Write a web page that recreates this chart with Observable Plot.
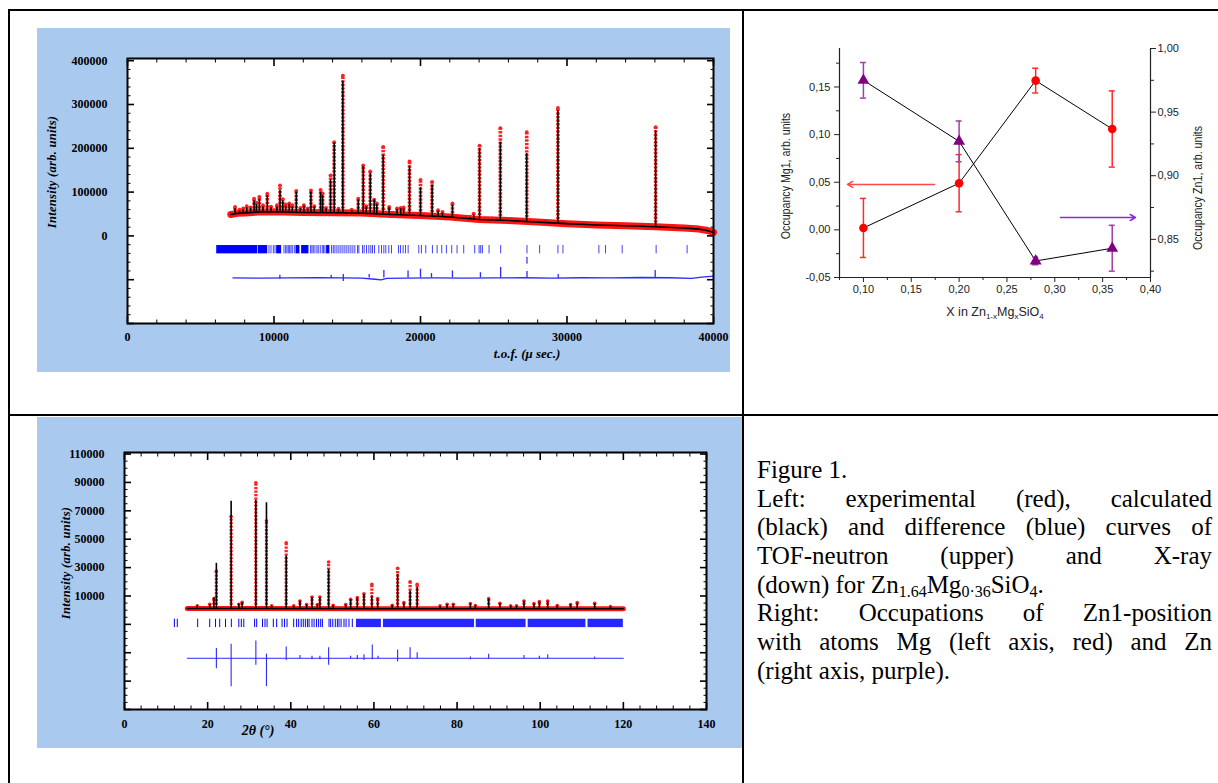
<!DOCTYPE html>
<html><head><meta charset="utf-8">
<script src="https://cdn.jsdelivr.net/npm/d3@7"></script>
<script src="https://cdn.jsdelivr.net/npm/@observablehq/plot@0.6"></script>
<style>
html,body{margin:0;padding:0;background:#fff;}
body{width:1218px;height:783px;overflow:hidden;position:relative;font-family:"Liberation Serif",serif;}
.ln{position:absolute;background:#000;}
.panel{position:absolute;background:#a9c9ee;}
.chart{position:absolute;}
.ttl{position:absolute;white-space:nowrap;transform-origin:center center;}
.cap{position:absolute;left:757px;top:456px;width:455px;font-family:"Liberation Serif",serif;font-size:25px;color:#000;}
.cap div{height:28.7px;line-height:28.7px;white-space:nowrap;}
.cap .j{text-align:justify;text-align-last:justify;}
.cap sub{font-size:16px;vertical-align:-4px;line-height:0;}
</style></head><body>
<div class="ln" style="left:8px;top:9px;width:1210px;height:2px"></div>
<div class="ln" style="left:8px;top:9px;width:2px;height:774px"></div>
<div class="ln" style="left:742px;top:9px;width:2px;height:774px"></div>
<div class="ln" style="left:8px;top:414px;width:1210px;height:2px"></div>
<div class="panel" style="left:37px;top:28px;width:693px;height:344px"></div>
<div class="panel" style="left:37px;top:417px;width:705px;height:331px"></div>
<div id="neutron" class="chart" style="left:37px;top:28px"></div>
<div id="xray" class="chart" style="left:37px;top:417px"></div>
<div id="occ" class="chart" style="left:745px;top:20px"></div>

<div class="ttl" style="left:52px;top:172px;transform:translate(-50%,-50%) rotate(-90deg);font:italic bold 12.5px 'Liberation Serif';letter-spacing:0.3px">Intensity (arb. units)</div>
<div class="ttl" style="left:527px;top:354px;transform:translate(-50%,-50%);font:italic bold 13px 'Liberation Serif'">t.o.f. (μ sec.)</div>
<div class="ttl" style="left:66px;top:563px;transform:translate(-50%,-50%) rotate(-90deg);font:italic bold 12.5px 'Liberation Serif';letter-spacing:0.3px">Intensity (arb. units)</div>
<div class="ttl" style="left:258px;top:731px;transform:translate(-50%,-50%);font:italic bold 14px 'Liberation Serif'">2θ (°)</div>

<div class="ttl" style="left:786px;top:176px;transform:translate(-50%,-50%) rotate(-90deg) scaleX(0.85);font:12.5px 'Liberation Sans';color:#222">Occupancy Mg1, arb. units</div>
<div class="ttl" style="left:1198px;top:188px;transform:translate(-50%,-50%) rotate(-90deg) scaleX(0.85);font:12.5px 'Liberation Sans';color:#222">Occupancy Zn1, arb. units</div>
<div class="ttl" style="left:995px;top:313px;transform:translate(-50%,-50%);font:12.5px 'Liberation Sans';color:#222">X in Zn<sub style="font-size:8px">1-x</sub>Mg<sub style="font-size:8px">x</sub>SiO<sub style="font-size:8px">4</sub></div>

<div class="cap">
<div>Figure 1.</div>
<div class="j">Left: experimental (red), calculated</div>
<div class="j">(black) and difference (blue) curves of</div>
<div class="j">TOF-neutron (upper) and X-ray</div>
<div>(down) for Zn<sub>1.64</sub>Mg<sub>0·36</sub>SiO<sub>4</sub>.</div>
<div class="j">Right: Occupations of Zn1-position</div>
<div class="j">with atoms Mg (left axis, red) and Zn</div>
<div>(right axis, purple).</div>
</div>

<script>
// ---------------- TOF neutron data ----------------
const nBackground = [[7050,49000],[7500,51500],[8000,52500],[9000,54500],[10000,55000],[12000,53500],[14000,53000],[16000,52000],[18000,49000],[20000,46500],[22000,43000],[24000,37500],[26000,35000],[28000,31500],[30000,28000],[32000,25000],[34000,23000],[36000,21000],[38000,18000],[39000,15500],[39500,13000],[40000,8000]];
// [tof, base, calculated top, observed top]
const nPeaks = [[7340,50500,62000,66000],[7650,51500,57000,60000],[7900,52000,60000,63000],[8140,52500,64000,68000],[8400,53000,63000,65000],[8640,53500,80000,85000],[8800,54000,72000,76000],[9000,54500,84000,89000],[9250,54500,66000,70000],[9540,55000,92000,96500],[9800,55000,64000,67000],[10200,55000,66000,70000],[10410,55000,104000,115000],[10600,55000,80000,84000],[10800,54500,68000,72000],[11040,54500,72000,74000],[11250,54500,66000,70000],[11520,54000,100000,103000],[11800,54000,62000,64000],[12040,53500,68000,70000],[12300,53500,61000,63000],[12520,53500,100000,104000],[12750,53500,66000,68000],[13180,53000,100000,105000],[13320,53000,92000,97000],[13550,53000,62000,64000],[13860,53000,128000,138000],[14110,53000,212000,214000],[14400,53000,60000,62000],[14700,53000,353000,366000],[15300,52500,58000,60000],[15750,52500,82000,85000],[16090,52000,158000,161000],[16300,52000,66000,68000],[16570,51500,143000,147000],[16840,51000,82000,83000],[17020,51000,72000,74000],[17450,50000,184000,203000],[17860,49500,64000,66000],[18400,48500,60000,63000],[18650,48000,62000,64000],[18850,48000,62000,65000],[19250,47500,160000,170000],[20000,46500,110000,128000],[20790,45000,116000,123000],[21200,44500,56000,58500],[21500,44000,52000,54700],[22180,42500,70000,74000],[23400,39000,42000,44000],[23630,38500,48000,51000],[24030,37500,200000,206000],[24900,36000,38000,40000],[25450,35500,214000,246000],[27250,33000,188000,237000],[29380,29000,285000,292000],[36050,21000,240000,248000]];
const nTickRow = [-22000, -41000];
const nTickRow2 = [-49000, -64500];
const nTickBlocks = [[6090,8890],[8930,9570],[10180,10520],[11500,11770],[11885,12385],[13590,13816]];
const nTicks = [9659,9795,9954,10068,10681,10795,10886,10977,11067,11158,11249,11385,12499,12590,12680,12794,12930,13021,13158,13294,13385,13476,13930,14044,14157,14294,14430,14566,14702,14839,14975,15111,15248,15384,15520,15702,15793,16043,16157,16316,16475,16611,16725,16861,17156,17338,17497,17633,17838,18020,18497,18633,18815,18974,19156,19883,20064,20360,20814,21132,21450,21768,22132,22495,22950,23700,24000,24111,24224,24679,25474,27269,28132,29382,29723,32176,32631,33767,36084,38198];
const nTicks2 = [27269];
const nDiff = [[7200,-96000],[9000,-96500],[11000,-96000],[13000,-95500],[14600,-96000],[16000,-96500],[16900,-99000],[17300,-100500],[17700,-97000],[19000,-96500],[21000,-96000],[23000,-96500],[25000,-96000],[27000,-95500],[29000,-96500],[31000,-95500],[33000,-96000],[35000,-95000],[37000,-95500],[38500,-97000],[39200,-94000],[40000,-92000]];
const nDiffSpikes = [[10400,-99000,-90000],[13900,-97000,-90000],[14730,-104000,-88000],[16500,-96000,-88000],[17500,-96000,-79000],[19150,-96000,-80000],[20000,-96000,-76000],[20750,-96000,-86000],[22180,-96000,-80000],[24090,-96000,-84000],[25470,-96000,-72000],[27270,-96000,-81000],[29400,-98000,-88000],[36020,-96000,-79000]];
const nXMajor = [0,10000,20000,30000,40000];
const nXMinor = d3.range(0, 40001, 2000).filter(v => v % 10000);
const nYMajor = [-200000,-100000,0,100000,200000,300000,400000];
const nYMinor = d3.range(-200000, 400001, 20000).filter(v => v % 100000);
const nYLabels = [0,100000,200000,300000,400000];

// ---------------- X-ray data ----------------
const xBackground = [[15.1,1100],[30,1100],[60,1050],[90,1000],[120,1000]];
const xPeaks = [[17.5,1000,2900,3000],[20.5,1000,4000,4200],[21.5,1000,8800,8000],[22.1,1000,33000,27500],[25.65,1000,76700,66000],[27.5,1000,4100,4200],[28.3,1000,5300,5500],[31.6,1000,77400,89800],[34.15,1000,75700,63000],[35.4,1000,2800,3000],[38.9,1000,38200,47500],[40.7,1000,2800,3000],[42.2,1000,6200,6500],[43.8,1000,3800,4000],[45.1,1000,9000,9300],[46.4,1000,3800,4000],[47.0,1000,9000,9300],[49.1,1000,28800,33900],[50.2,1000,3300,3500],[53.2,1000,3800,4000],[54.4,1000,7400,7700],[56.0,1000,8500,8800],[57.6,1000,11000,11600],[59.5,1000,10000,18200],[60.9,1000,7800,8100],[64.4,1000,3300,3500],[65.7,1000,25300,29500],[67.2,1000,5000,5300],[68.7,1000,13500,20000],[70.4,1000,15900,18200],[75.9,1000,2800,3000],[77.6,1000,3900,4100],[79.1,1000,3900,4100],[83.2,1000,4400,4600],[84.4,1000,3000,3200],[87.6,1000,7800,8100],[90.3,1000,4700,4900],[92.9,1000,2800,3000],[94.3,1000,2800,3000],[96.1,1000,6200,6500],[98.5,1000,4400,4600],[99.8,1000,5800,6000],[101.8,1000,6200,6500],[104.1,1000,3000,3200],[107.3,1000,3800,4000],[108.9,1000,5000,5300],[113.1,1000,4700,4900],[116.9,1000,2400,2500]];
const xTickRow = [-6400, -12300];
const xTicks = [12.0,12.7,17.6,20.5,21.9,22.9,24.3,25.7,27.5,28.1,28.7,31.3,31.8,33.2,33.8,34.3,35.8,36.6,37.9,38.5,39.1,40.7,41.4,41.9,42.5,43.0,43.5,44.0,44.4,45.1,45.6,46.2,46.7,47.2,47.6,49.2,49.6,50.1,50.7,51.2,51.6,52.1,52.8,53.3,54.0,54.8];
const xTickBlocks = [[55.8,61.8],[62.3,84.2],[84.6,96.6],[97.1,111.0],[111.5,120.0]];
const xDiff = [[15.1,-33900],[60,-33900],[120,-33900]];
const xDiffSpikes = [[22.1,-41200,-27100],[25.65,-53900,-24000],[31.6,-38800,-21700],[34.15,-53900,-31000],[38.9,-35500,-25900],[42.2,-34500,-32000],[45.1,-35000,-32500],[47.0,-35000,-32500],[49.1,-38800,-26400],[54.4,-34500,-32500],[56.0,-35000,-32000],[57.6,-35500,-31500],[59.6,-35000,-24500],[61.0,-34500,-32500],[65.7,-36500,-28000],[68.7,-34500,-26400],[70.4,-34500,-30000],[83.2,-35000,-33000],[87.6,-34500,-31000],[96.1,-34500,-32000],[99.8,-34500,-32500],[101.8,-34500,-31500],[113.1,-34500,-33000]];
const xXMajor = [0,20,40,60,80,100,120,140];
const xXMinor = d3.range(0, 141, 4).filter(v => v % 20);
const xYMajor = d3.range(-70000, 110001, 20000);
const xYMinor = d3.range(-70000, 110001, 5000).filter(v => (v + 70000) % 20000);
const xYLabels = [10000,30000,50000,70000,90000,110000];

// ---------------- Occupancy data ----------------
const occX = [0.10, 0.20, 0.28, 0.36];
const mgOcc = [0.002, 0.049, 0.1567, 0.1059];
const mgErr = [0.031, 0.030, 0.013, 0.040];
const znOcc = [0.975, 0.927, 0.833, 0.843];
const znErr = [0.014, 0.016, 0.003, 0.018];
const leftDomain = [-0.05, 0.1904];
const rightDomain = [0.82, 1.00];
const occXTicks = [0.10,0.15,0.20,0.25,0.30,0.35,0.40];
const occXMinor = [0.075,0.125,0.175,0.225,0.275,0.325,0.375];
const leftTicks = [-0.05,0,0.05,0.10,0.15];
const leftMinor = [-0.025,0.025,0.075,0.125,0.175];
const rightTicks = [0.85,0.90,0.95,1.00];
const rightMinor = [0.825,0.875,0.925,0.975];
// arrows: [x from, x to, left-axis level, colour]
const occArrows = [[0.1743,0.0833,0.0477,"#ff4a4a"],[0.3059,0.3843,0.0130,"#8a2be2"]];

// ---------------- helpers ----------------
const px = d => d[0];
function boxAxes(o) {
  const ax = (vals, anchor, size, w) => (anchor === "left" || anchor === "right")
    ? Plot.axisY(vals, {anchor, tickSize: -size, fill: "none", stroke: "black", strokeWidth: w, label: null})
    : Plot.axisX(vals, {anchor, tickSize: -size, fill: "none", stroke: "black", strokeWidth: w, label: null});
  return [
    ax(o.xMajor, "bottom", 7, 1.6), ax(o.xMinor, "bottom", 3.5, 1),
    ax(o.xMajor, "top", 7, 1.6), ax(o.xMinor, "top", 3.5, 1),
    ax(o.yMajor, "left", 7, 1.6), ax(o.yMinor, "left", 3.5, 1),
    ax(o.yMajor, "right", 7, 1.6), ax(o.yMinor, "right", 3.5, 1),
    Plot.axisX(o.xMajor, {anchor: "bottom", tickSize: 0, tickPadding: o.xPad, tickFormat: d3.format("d"), label: null, fill: "black"}),
    Plot.axisY(o.yLabels, {anchor: "left", tickSize: 0, tickPadding: o.yPad, tickFormat: d3.format("d"), label: null, fill: "black"})
  ];
}
const diffStyle = {fontFamily: "Liberation Serif", fontSize: "12px", fontWeight: "bold", background: "transparent", overflow: "visible", color: "black"};

// ---------------- neutron chart ----------------
document.getElementById("neutron").append(Plot.plot({
  width: 693, height: 344, marginLeft: 90, marginRight: 17, marginTop: 30, marginBottom: 49,
  style: diffStyle,
  x: {domain: [0, 40000], label: null},
  y: {domain: [-200000, 405000], label: null},
  marks: [
    Plot.frame({fill: "white", stroke: "none"}),
    Plot.line(nBackground, {x: px, y: d => d[1], stroke: "#ff1414", strokeWidth: 7}),
    Plot.ruleX(nPeaks, {x: px, y1: d => d[1], y2: d => d[3], stroke: "#ff2020", strokeWidth: 3.6, strokeDasharray: "2.4,1.2"}),
    Plot.dot(nPeaks, {x: px, y: d => d[3], r: 1.9, fill: "#ff2020", stroke: "none"}),
    Plot.line(nBackground, {x: px, y: d => d[1], stroke: "black", strokeWidth: 1.6}),
    Plot.ruleX(nPeaks, {x: px, y1: d => d[1], y2: d => d[2], stroke: "black", strokeWidth: 1.6}),
    Plot.rect(nTickBlocks, {x1: d => d[0], x2: d => d[1], y1: nTickRow[0], y2: nTickRow[1], fill: "#0000ff"}),
    Plot.ruleX(nTicks, {x: d => d, y1: nTickRow[0], y2: nTickRow[1], stroke: "#0000ff", strokeWidth: 1, strokeOpacity: 0.75}),
    Plot.ruleX(nTicks2, {x: d => d, y1: nTickRow2[0], y2: nTickRow2[1], stroke: "#0000ff", strokeWidth: 1}),
    Plot.line(nDiff, {x: px, y: d => d[1], stroke: "#2a2aff", strokeWidth: 1.3}),
    Plot.ruleX(nDiffSpikes, {x: px, y1: d => d[1], y2: d => d[2], stroke: "#2a2aff", strokeWidth: 1.3}),
    ...boxAxes({xMajor: nXMajor, xMinor: nXMinor, yMajor: nYMajor, yMinor: nYMinor, yLabels: nYLabels, xPad: 9, yPad: 20}),
    Plot.frame({stroke: "black", strokeWidth: 2})
  ]
}));

// ---------------- X-ray chart ----------------
document.getElementById("xray").append(Plot.plot({
  width: 705, height: 331, marginLeft: 87, marginRight: 36, marginTop: 35, marginBottom: 39,
  style: diffStyle,
  x: {domain: [0, 140], label: null},
  y: {domain: [-70000, 111100], label: null},
  marks: [
    Plot.frame({fill: "white", stroke: "none"}),
    Plot.line(xBackground, {x: px, y: d => d[1], stroke: "#ff1414", strokeWidth: 5}),
    Plot.ruleX(xPeaks, {x: px, y1: d => d[1], y2: d => d[3], stroke: "#ff2020", strokeWidth: 3.2, strokeDasharray: "2.2,1.3"}),
    Plot.dot(xPeaks, {x: px, y: d => d[3], r: 1.8, fill: "#ff2020", stroke: "none"}),
    Plot.line(xBackground, {x: px, y: d => d[1], stroke: "black", strokeWidth: 1.5}),
    Plot.ruleX(xPeaks, {x: px, y1: d => d[1], y2: d => d[2], stroke: "black", strokeWidth: 1.6}),
    Plot.rect(xTickBlocks, {x1: d => d[0], x2: d => d[1], y1: xTickRow[0], y2: xTickRow[1], fill: "#0000ff", fillOpacity: 0.85}),
    Plot.ruleX(xTicks, {x: d => d, y1: xTickRow[0], y2: xTickRow[1], stroke: "#0000ff", strokeWidth: 1}),
    Plot.line(xDiff, {x: px, y: d => d[1], stroke: "#2a2aff", strokeWidth: 1}),
    Plot.ruleX(xDiffSpikes, {x: px, y1: d => d[1], y2: d => d[2], stroke: "#2a2aff", strokeWidth: 1.1}),
    ...boxAxes({xMajor: xXMajor, xMinor: xXMinor, yMajor: xYMajor, yMinor: xYMinor, yLabels: xYLabels, xPad: 10, yPad: 20}),
    Plot.frame({stroke: "black", strokeWidth: 2})
  ]
}));

// ---------------- occupancy chart ----------------
const toLeft = v => leftDomain[0] + (v - rightDomain[0]) * (leftDomain[1] - leftDomain[0]) / (rightDomain[1] - rightDomain[0]);
const comma = d => d3.format(".2f")(d).replace(".", ",").replace("−", "-");
const mg = occX.map((x, i) => ({x, y: mgOcc[i], lo: mgOcc[i] - mgErr[i], hi: mgOcc[i] + mgErr[i]}));
const zn = occX.map((x, i) => ({x, y: toLeft(znOcc[i]), lo: toLeft(znOcc[i] - znErr[i]), hi: toLeft(znOcc[i] + znErr[i])}));
const occFont = {fontFamily: "Liberation Sans", fontSize: "11px", background: "transparent", overflow: "visible", color: "#222"};
document.getElementById("occ").append(Plot.plot({
  width: 473, height: 320, marginLeft: 94, marginRight: 68, marginTop: 28, marginBottom: 63,
  style: occFont,
  x: {domain: [0.075, 0.40], label: null},
  y: {domain: leftDomain, label: null},
  marks: [
    Plot.ruleX([0.075, 0.40], {stroke: "#222", strokeWidth: 1.2}),
    Plot.ruleY([leftDomain[0]], {stroke: "#222", strokeWidth: 1.2}),
    Plot.axisX(occXTicks, {anchor: "bottom", tickSize: 5, tickPadding: 3, tickFormat: comma, label: null, stroke: "#222"}),
    Plot.axisX(occXMinor, {anchor: "bottom", tickSize: 3, fill: "none", label: null, stroke: "#222"}),
    Plot.axisY(leftTicks, {anchor: "left", tickSize: 5, tickPadding: 4, tickFormat: comma, label: null, stroke: "#222"}),
    Plot.axisY(leftMinor, {anchor: "left", tickSize: 3, fill: "none", label: null, stroke: "#222"}),
    Plot.axisY(rightTicks.map(toLeft), {anchor: "right", tickSize: 5, tickPadding: 2, tickFormat: d => comma(rightDomain[0] + (d - leftDomain[0]) * (rightDomain[1] - rightDomain[0]) / (leftDomain[1] - leftDomain[0])), label: null, stroke: "#222"}),
    Plot.axisY(rightMinor.map(toLeft), {anchor: "right", tickSize: 3, fill: "none", label: null, stroke: "#222"}),
    Plot.line(mg, {x: "x", y: "y", stroke: "black", strokeWidth: 1}),
    Plot.line(zn, {x: "x", y: "y", stroke: "black", strokeWidth: 1}),
    Plot.ruleX(mg, {x: "x", y1: "lo", y2: "hi", stroke: "#ff2a2a", strokeWidth: 1.5}),
    Plot.ruleY(mg, {y: "lo", x1: "x", x2: "x", insetLeft: -3, insetRight: -3, stroke: "#ff2a2a", strokeWidth: 1.5}),
    Plot.ruleY(mg, {y: "hi", x1: "x", x2: "x", insetLeft: -3, insetRight: -3, stroke: "#ff2a2a", strokeWidth: 1.5}),
    Plot.ruleX(zn, {x: "x", y1: "lo", y2: "hi", stroke: "#a040a8", strokeWidth: 1.5}),
    Plot.ruleY(zn, {y: "lo", x1: "x", x2: "x", insetLeft: -3, insetRight: -3, stroke: "#a040a8", strokeWidth: 1.5}),
    Plot.ruleY(zn, {y: "hi", x1: "x", x2: "x", insetLeft: -3, insetRight: -3, stroke: "#a040a8", strokeWidth: 1.5}),
    Plot.arrow(occArrows, {x1: d => d[0], x2: d => d[1], y1: d => d[2], y2: d => d[2], stroke: d => d[3], strokeWidth: 1.5, headLength: 6}),
    Plot.dot(mg, {x: "x", y: "y", r: 4.3, fill: "#ff0000", stroke: "none"}),
    Plot.dot(zn, {x: "x", y: "y", r: 4.4, symbol: "triangle", fill: "#800080", stroke: "none"})
  ]
}));
</script>
</body></html>
